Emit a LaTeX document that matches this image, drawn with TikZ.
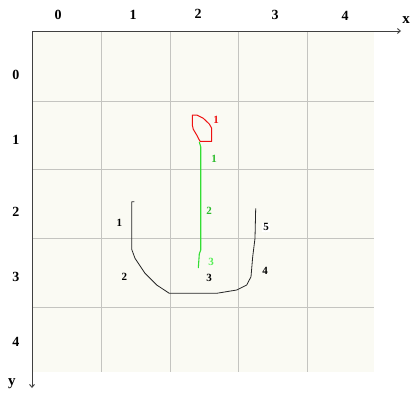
\documentclass[tikz,border=0pt]{standalone}
\usepackage{fontspec}
\setmainfont{Liberation Serif}
\usetikzlibrary{arrows.meta}
\definecolor{cellbg}{HTML}{FAFAF3}
\definecolor{gridc}{HTML}{C4C4C0}
\definecolor{redc}{HTML}{EE1111}
\definecolor{greenc}{HTML}{33DD33}
\definecolor{greenl}{HTML}{55EE55}
\tikzset{
  axlab/.style={font=\bfseries\fontsize{14}{14}\selectfont, inner sep=0pt},
  crvlab/.style={font=\bfseries\fontsize{11}{11}\selectfont, inner sep=0pt},
  axisline/.style={draw=black!75, line width=0.9pt, -{Straight Barb[length=3pt,width=5pt]}},
}
\begin{document}
\begin{tikzpicture}[x=1pt,y=-1pt]
\useasboundingbox (0,0) rectangle (410,402);
% background grid
\fill[cellbg] (32,31) rectangle (374,372);
\foreach \xx in {101,170,238,307}{\draw[gridc, line width=1pt] (\xx,31) -- (\xx,372);}
\foreach \yy in {101,169,238,307}{\draw[gridc, line width=1pt] (32,\yy) -- (374,\yy);}
% axes
\coordinate (O) at (32,31);
\coordinate (xend) at (401,31);
\coordinate (yend) at (32,388);
\draw[axisline] (O) -- (xend);
\draw[axisline] (O) -- (yend);
\node[axlab, font=\bfseries\fontsize{15}{15}\selectfont] (xl) at (406,20) {x};
\node[axlab, font=\bfseries\fontsize{15}{15}\selectfont] (yl) at (12,384) {y};
% column labels
\node[axlab] (c0) at (58,15) {0};
\node[axlab] (c1) at (133,15) {1};
\node[axlab] (c2) at (198,14) {2};
\node[axlab] (c3) at (275,15) {3};
\node[axlab] (c4) at (345,16) {4};
% row labels
\node[axlab] (r0) at (16,75) {0};
\node[axlab] (r1) at (16,140) {1};
\node[axlab] (r2) at (16,212) {2};
\node[axlab] (r3) at (16,277) {3};
\node[axlab] (r4) at (16,342) {4};
% red shape
\draw[redc, line width=1pt, line join=round]
  (192.3,115) -- (196.7,115) -- (203.3,118.3) -- (209.3,124) -- (211.7,128.3)
  -- (211.7,141.3) -- (200,141.3) -- (196.7,135) -- (193.3,129.3) -- (192.3,125) -- cycle;
\node[crvlab, text=redc] (red1) at (216,120) {1};
% green line
\draw[greenc, line width=1.1pt, line join=round]
  (199.3,142) -- (200.7,146.7) -- (200.7,250) -- (199.3,254) -- (198.3,268);
\node[crvlab, text=greenc!85!black] (g1) at (214,159.3) {1};
\node[crvlab, text=greenc!85!black] (g2) at (209,210.7) {2};
\node[crvlab, text=greenl] (g3) at (211,261.7) {3};
% black curve
\draw[black!85, line width=0.8pt, line join=round]
  (134.3,201.7) -- (131.7,201.7) -- (131.7,249.3) -- (135,258.3) -- (145,273.3)
  -- (156.7,285) -- (169.3,293.3) -- (216.7,293.3) -- (236.7,290) -- (246.7,285)
  -- (251,276.7) -- (252.7,256.7) -- (255,238.3) -- (255.7,208.3);
\node[crvlab] (b1) at (119.3,222.7) {1};
\node[crvlab] (b2) at (124.3,277.3) {2};
\node[crvlab] (b3) at (209,278.3) {3};
\node[crvlab] (b4) at (265,270.7) {4};
\node[crvlab, fill=white, inner sep=1pt] (b5) at (266,227.3) {5};
\end{tikzpicture}
\end{document}
